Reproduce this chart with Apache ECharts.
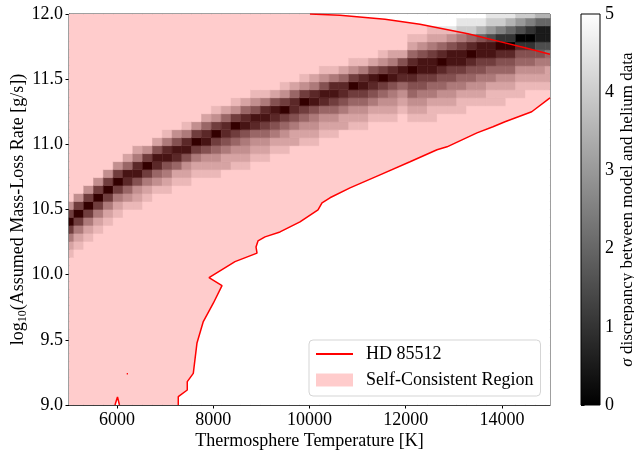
<!DOCTYPE html>
<html>
<head>
<meta charset="utf-8">
<script src="https://cdn.jsdelivr.net/npm/echarts@6/dist/echarts.min.js"></script>
<style>
  html, body { margin: 0; padding: 0; background: #fff; }
  #chart { width: 634px; height: 452px; }
</style>
</head>
<body>
<div id="chart"></div>
<script>
// model grid: 50 x 50 runs, cell centres from min to max
var tempMin = 5000, tempMax = 15000;
var mdotMin = 9, mdotMax = 12;
var nGrid = 50;

var xTicks = [6000, 8000, 10000, 12000, 14000];
var yTicks = [9.0, 9.5, 10.0, 10.5, 11.0, 11.5, 12.0];
var cbarTicks = [0, 1, 2, 3, 4, 5];
var cbarRange = [0, 5];

// sigma, one entry per temperature column:
// [first row (0 = bottom), digits going up, digit = 2*sigma]; every other cell is >= 5
var bandCols = [
  [19, '9863037'], [20, '9863037'], [21, '9863037'], [22, '9863037'], [23, '9863037'],
  [24, '9863037'], [25, '9752158'], [25, '98741268'], [26, '9863037'], [27, '9752148'],
  [27, '98641269'], [28, '9852147'], [28, '98741269'], [29, '9863037'], [29, '98741258'],
  [29, '987530379'], [30, '88642258'], [30, '987530379'], [30, '987641258'], [31, '987521479'],
  [31, '987531269'], [32, '98642148'], [32, '987530379'], [33, '88642258'], [33, '987530379'],
  [33, '987641268'], [34, '987521479'], [34, '987531269'], [35, '88642258'], [35, '987530379'],
  [35, '987531269'], [36, '98642148'], [36, '987530379'], [36, '987641268'], [37, '98752148'],
  [36, '98754202589'], [36, '98764311479'], [36, '998653113689'], [37, '98754202589'], [37, '98764311479'],
  [37, '998653113689'], [38, '98754202589'], [38, '98764311479'], [38, '998653113689'], [38, '998754202589'],
  [39, '98754202479'], [39, '99875420368'], [40, '9875420258'], [40, '9876431147'], [40, '9886531147']
];

// HD 85512 contour (edge of the self-consistent region)
var upperT = [10010, 10634, 11570, 12297, 13295, 13960, 14480, 15000];
var upperM = [12.0, 11.991, 11.960, 11.922, 11.849, 11.788, 11.741, 11.691];
var lowerT = [15000, 14620, 14064, 13815, 13482, 12859, 12651, 12090, 11466, 10842, 10426, 10260, 10177, 9802, 9387,
  9075, 8929, 8888, 8909, 8451, 7911, 8181, 8000, 7792, 7661, 7584, 7459, 7459, 7272, 7272];
var lowerM = [11.357, 11.250, 11.173, 11.135, 11.088, 10.981, 10.958, 10.866, 10.766, 10.666, 10.590, 10.551, 10.497, 10.405, 10.328,
  10.290, 10.259, 10.213, 10.165, 10.100, 9.977, 9.916, 9.781, 9.640, 9.476, 9.243, 9.179, 9.115, 9.064, 9.000];
var notchT = [5956, 6008, 6049];
var notchM = [9.0, 9.062, 9.0];
var dotT = [6200, 6225];
var dotM = [9.24, 9.24];

var dT = (tempMax - tempMin) / (nGrid - 1);
var dM = (mdotMax - mdotMin) / (nGrid - 1);

var cells = [];
for (var i = 0; i < nGrid; i++) {
  var start = bandCols[i][0], digits = bandCols[i][1];
  for (var j = 0; j < nGrid; j++) {
    var k = j - start, s = 5;
    if (k >= 0 && k < digits.length) s = Number(digits[k]) / 2;
    cells.push([tempMin + i * dT, mdotMin + j * dM, s]);
  }
}

function pairs(xs, ys) {
  return xs.map(function (x, n) { return [x, ys[n]]; });
}

// region polygon: top edge, upper contour, right edge, lower contour, bottom edge
var regionPts = [[tempMin, mdotMax]]
  .concat(pairs(upperT, upperM))
  .concat(pairs(lowerT, lowerM))
  .concat([[notchT[2], notchM[2]], [notchT[1], notchM[1]], [notchT[0], notchM[0]], [tempMin, mdotMin]]);

var font = 'Liberation Serif, Times New Roman, serif';
var fs = 18;

function renderCell(params, api) {
  var a = api.coord([api.value(0) - dT / 2, api.value(1) + dM / 2]);
  var b = api.coord([api.value(0) + dT / 2, api.value(1) - dM / 2]);
  var cs = params.coordSys;
  var x0 = Math.max(a[0], cs.x), x1 = Math.min(b[0], cs.x + cs.width);
  var y0 = Math.max(a[1], cs.y), y1 = Math.min(b[1], cs.y + cs.height);
  if (x1 <= x0 || y1 <= y0) return;
  var c = api.visual('color');
  return {
    type: 'rect',
    shape: { x: x0, y: y0, width: x1 - x0, height: y1 - y0 },
    style: { fill: c, stroke: c, lineWidth: 0.5 }
  };
}

function renderRegion(params, api) {
  if (params.dataIndex !== 0) return;
  return {
    type: 'polygon',
    shape: { points: regionPts.map(function (p) { return api.coord(p); }) },
    style: { fill: 'rgba(255,0,0,0.2)' }
  };
}

function renderBar(params, api) {
  var a = api.coord([0, cbarRange[1]]);
  var b = api.coord([1, cbarRange[0]]);
  return {
    type: 'rect',
    shape: { x: a[0], y: a[1], width: b[0] - a[0], height: b[1] - a[1] },
    style: {
      fill: new echarts.graphic.LinearGradient(0, 0, 0, 1, [
        { offset: 0, color: '#ffffff' }, { offset: 1, color: '#000000' }
      ]),
      stroke: '#000', lineWidth: 1
    }
  };
}

function contour(data) {
  return {
    name: 'HD 85512', type: 'line', xAxisIndex: 0, yAxisIndex: 0,
    data: data, symbol: 'none', silent: true,
    lineStyle: { color: '#ff0000', width: 1.5 }, itemStyle: { color: '#ff0000' }, z: 5
  };
}

var chart = echarts.init(document.getElementById('chart'), null, { renderer: 'canvas' });

chart.setOption({
  animation: false,
  textStyle: { fontFamily: font },
  grid: [
    { left: 69, top: 14, width: 481, height: 391, show: true, borderColor: '#000', borderWidth: 1,
      backgroundColor: '#fff', outerBoundsMode: 'none', containLabel: false },
    { left: 581, top: 14, width: 19, height: 391, outerBoundsMode: 'none', containLabel: false }
  ],
  xAxis: [{
    type: 'value', min: tempMin, max: tempMax, gridIndex: 0,
    name: 'Thermosphere Temperature [K]', nameLocation: 'middle', nameGap: 27, nameMoveOverlap: false,
    nameTextStyle: { fontFamily: font, fontSize: fs, color: '#000' },
    axisLine: { show: true, lineStyle: { color: '#000', width: 1 } },
    axisTick: { show: true, length: 3.5, lineStyle: { color: '#000' }, customValues: xTicks },
    axisLabel: {
      fontFamily: font, fontSize: fs, color: '#000', margin: 6, customValues: xTicks,
      formatter: function (v) { return String(v); }
    },
    splitLine: { show: false }
  }, {
    type: 'value', min: 0, max: 1, gridIndex: 1, show: false
  }],
  yAxis: [{
    type: 'value', min: mdotMin, max: mdotMax, interval: 0.5, gridIndex: 0,
    name: '{t|log}{s|10}{t|(Assumed Mass-Loss Rate [g/s])}',
    nameLocation: 'middle', nameRotate: 90, nameGap: 40, nameMoveOverlap: false,
    nameTextStyle: {
      fontFamily: font, fontSize: fs, color: '#000',
      rich: {
        t: { fontFamily: font, fontSize: fs, color: '#000' },
        s: { fontFamily: font, fontSize: 12, color: '#000', padding: [10, 0, 0, 0] }
      }
    },
    axisLine: { show: true, lineStyle: { color: '#000', width: 1 } },
    axisTick: { show: true, length: 3.5, lineStyle: { color: '#000' }, customValues: yTicks },
    axisLabel: {
      fontFamily: font, fontSize: fs, color: '#000', margin: 6, customValues: yTicks,
      formatter: function (v) { return v.toFixed(1); }
    },
    splitLine: { show: false }
  }, {
    type: 'value', min: cbarRange[0], max: cbarRange[1], interval: 1, gridIndex: 1, position: 'right',
    name: '{i|σ} discrepancy between model and helium data',
    nameLocation: 'middle', nameRotate: 90, nameGap: 19, nameMoveOverlap: false,
    nameTextStyle: {
      fontFamily: font, fontSize: 17, color: '#000',
      rich: {
        i: { fontFamily: font, fontSize: 17, fontStyle: 'italic', color: '#000' }
      }
    },
    axisLine: { show: false },
    axisTick: { show: true, length: 3.5, lineStyle: { color: '#000' } },
    axisLabel: { fontFamily: font, fontSize: fs, color: '#000', margin: 5 },
    splitLine: { show: false }
  }],
  visualMap: {
    type: 'continuous', show: false, seriesIndex: 0, dimension: 2,
    min: cbarTicks[0], max: cbarTicks[cbarTicks.length - 1],
    inRange: { color: ['#000000', '#ffffff'] }
  },
  legend: {
    left: 309, top: 340, orient: 'vertical',
    padding: [5, 7, 7, 7], itemGap: 8, itemWidth: 37, itemHeight: 13,
    backgroundColor: 'rgba(255,255,255,0.8)', borderColor: '#d5d5d5', borderWidth: 1, borderRadius: 4,
    textStyle: { fontFamily: font, fontSize: fs, color: '#000', padding: [0, 0, 0, 8] },
    data: [
      { name: 'HD 85512', icon: 'path://M0,0H40V2H0Z', itemStyle: { color: '#ff0000' } },
      { name: 'Self-Consistent Region', icon: 'rect', itemStyle: { color: 'rgba(255,0,0,0.2)' } }
    ]
  },
  series: [
    {
      name: 'sigma', type: 'custom', xAxisIndex: 0, yAxisIndex: 0,
      dimensions: ['T', 'logMdot', 'sigma'], encode: { x: 0, y: 1 },
      data: cells, renderItem: renderCell, silent: true, z: 1
    },
    {
      name: 'Self-Consistent Region', type: 'custom', xAxisIndex: 0, yAxisIndex: 0,
      data: regionPts, renderItem: renderRegion, silent: true, z: 2,
      itemStyle: { color: 'rgba(255,0,0,0.2)' }
    },
    contour(pairs(upperT, upperM)),
    contour(pairs(lowerT, lowerM)),
    contour(pairs(notchT, notchM)),
    contour(pairs(dotT, dotM)),
    {
      name: 'colorbar', type: 'custom', xAxisIndex: 1, yAxisIndex: 1,
      data: [cbarRange], renderItem: renderBar, silent: true
    }
  ]
});
</script>
</body>
</html>
